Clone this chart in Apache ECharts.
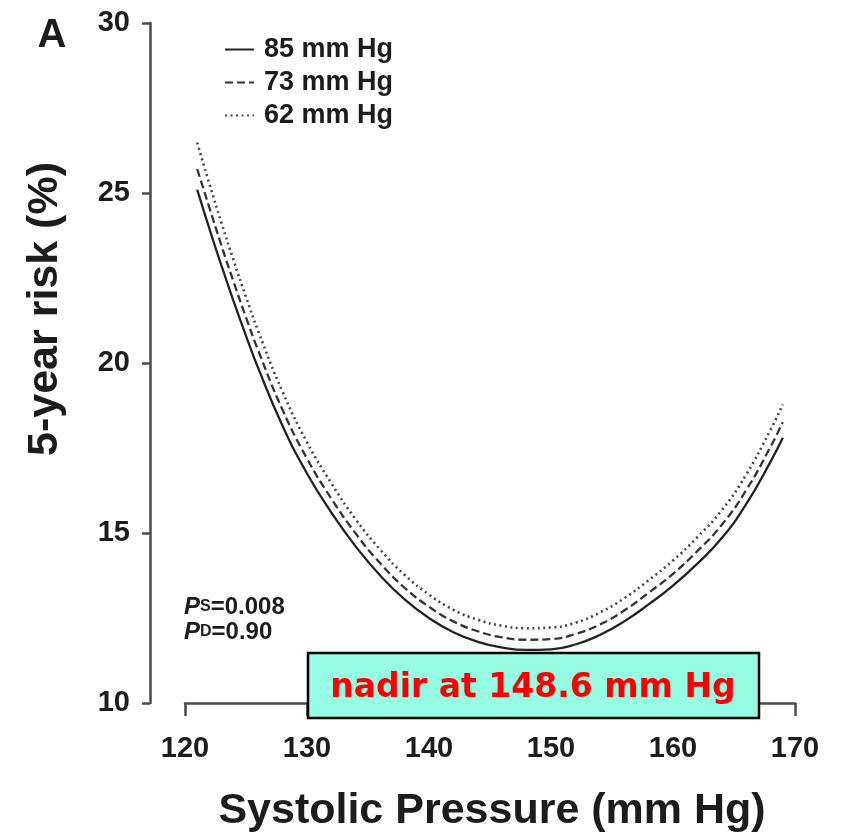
<!DOCTYPE html>
<html>
<head>
<meta charset="utf-8">
<script src="https://cdn.jsdelivr.net/npm/echarts@6/dist/echarts.min.js"></script>
<style>
  html, body { margin: 0; padding: 0; background: #fff; }
  #chart { width: 850px; height: 835px; }
</style>
</head>
<body>
<div id="chart"></div>
<script>
// systolic pressure (mm Hg) where the curves were read
const pressure = [121, 122, 123, 124, 125, 126, 128, 130, 132, 134, 136, 138, 140, 142, 144, 146, 148, 150, 152, 154, 156, 158, 160, 162, 164, 166, 168, 169];

// 5-year risk (%) per diastolic level
const risk85 = [25.1, 23.95, 22.85, 21.8, 20.8, 19.85, 18.15, 16.75, 15.6, 14.6, 13.75, 13.05, 12.5, 12.08, 11.8, 11.63, 11.56, 11.58, 11.72, 12.0, 12.4, 12.9, 13.45, 14.1, 14.85, 15.85, 17.1, 17.8];
const risk73 = [25.7, 24.57, 23.44, 22.37, 21.34, 20.37, 18.62, 17.19, 16.01, 14.98, 14.11, 13.39, 12.83, 12.4, 12.11, 11.93, 11.86, 11.88, 12.03, 12.31, 12.72, 13.24, 13.8, 14.47, 15.24, 16.26, 17.54, 18.26];
const risk62 = [26.48, 25.27, 24.11, 23.0, 21.94, 20.94, 19.15, 17.67, 16.46, 15.4, 14.51, 13.77, 13.19, 12.74, 12.45, 12.27, 12.2, 12.22, 12.36, 12.66, 13.08, 13.61, 14.19, 14.88, 15.67, 16.72, 18.04, 18.78];

const seriesNames = ['85 mm Hg', '73 mm Hg', '62 mm Hg'];

const FONT = '"Liberation Sans", Arial, sans-serif';
const INK = '#1c1c1c';
const AXIS = '#4a4a4a';

const chart = echarts.init(document.getElementById('chart'), null, { renderer: 'canvas' });

function pairs(ys) {
  return pressure.map((p, i) => [p, ys[i]]);
}

function curve(name, ys, type, color, width) {
  return {
    name: name,
    type: 'line',
    data: pairs(ys),
    smooth: true,
    symbol: 'none',
    lineStyle: { color: color, width: width, type: type },
    itemStyle: { color: color }
  };
}

// P-value note, small caps subscript
function pNote(sub, val, y) {
  return {
    type: 'text', x: 184, y: y, z: 50,
    style: {
      text: '{p|P}{s|' + sub + '}{n|=' + val + '}',
      align: 'left', verticalAlign: 'middle',
      rich: {
        p: { fontFamily: FONT, fontWeight: 'bold', fontStyle: 'italic', fontSize: 24, fill: INK },
        s: { fontFamily: FONT, fontWeight: 'bold', fontSize: 16, fill: INK },
        n: { fontFamily: FONT, fontWeight: 'bold', fontSize: 24, fill: INK }
      }
    }
  };
}

const option = {
  animation: false,
  backgroundColor: '#fff',
  grid: { left: 185, right: 55, top: 23, bottom: 132 },
  legend: {
    orient: 'vertical',
    left: 219,
    top: 31,
    itemWidth: 29,
    itemHeight: 14,
    itemGap: 6,
    data: seriesNames,
    itemStyle: { opacity: 0 },
    textStyle: {
      fontFamily: FONT,
      fontWeight: 'bold',
      fontSize: 27,
      color: INK,
      padding: [0, 0, 0, 5]
    }
  },
  xAxis: {
    type: 'value',
    min: 120,
    max: 170,
    interval: 10,
    axisLine: { show: true, lineStyle: { color: AXIS, width: 2.5 } },
    axisTick: { show: true, length: 13, lineStyle: { color: AXIS, width: 2.5 } },
    axisLabel: { margin: 31, fontFamily: FONT, fontWeight: 'bold', fontSize: 29, color: INK },
    splitLine: { show: false }
  },
  yAxis: {
    type: 'value',
    min: 10,
    max: 30,
    interval: 5,
    offset: 35,
    axisLine: { show: true, lineStyle: { color: AXIS, width: 2.5 } },
    axisTick: { show: true, length: 8, lineStyle: { color: AXIS, width: 2.5 } },
    axisLabel: { margin: 20, fontFamily: FONT, fontWeight: 'bold', fontSize: 29, color: INK },
    splitLine: { show: false }
  },
  series: [
    curve(seriesNames[0], risk85, 'solid', '#222', 2.3),
    curve(seriesNames[1], risk73, [8, 4], '#333', 2.3),
    curve(seriesNames[2], risk62, [2, 3.5], '#444', 2.6)
  ],
  graphic: [
    {
      type: 'text', x: 52, y: 36, z: 50,
      style: { text: 'A', fontFamily: FONT, fontWeight: 'bold', fontSize: 40, fill: INK, align: 'center', verticalAlign: 'middle' }
    },
    {
      type: 'text', x: 45, y: 309, rotation: Math.PI / 2, z: 50,
      style: { text: '5-year risk (%)', fontFamily: FONT, fontWeight: 'bold', fontSize: 43, fill: INK, align: 'center', verticalAlign: 'middle' }
    },
    {
      type: 'text', x: 492, y: 811, z: 50,
      style: { text: 'Systolic Pressure (mm Hg)', fontFamily: FONT, fontWeight: 'bold', fontSize: 43, fill: INK, align: 'center', verticalAlign: 'middle' }
    },
    pNote('S', '0.008', 607),
    pNote('D', '0.90', 632),
    {
      type: 'rect', z: 100,
      shape: { x: 308, y: 653, width: 451, height: 65 },
      style: { fill: '#96fce4', stroke: '#000', lineWidth: 2.5 }
    },
    {
      type: 'text', x: 533, y: 688, z: 101,
      style: { text: 'nadir at 148.6 mm Hg', fontFamily: '"Comic Sans MS", "DejaVu Sans", sans-serif', fontWeight: 'bold', fontSize: 33, fill: '#ff0000', align: 'center', verticalAlign: 'middle' }
    }
  ]
};

chart.setOption(option);
</script>
</body>
</html>
